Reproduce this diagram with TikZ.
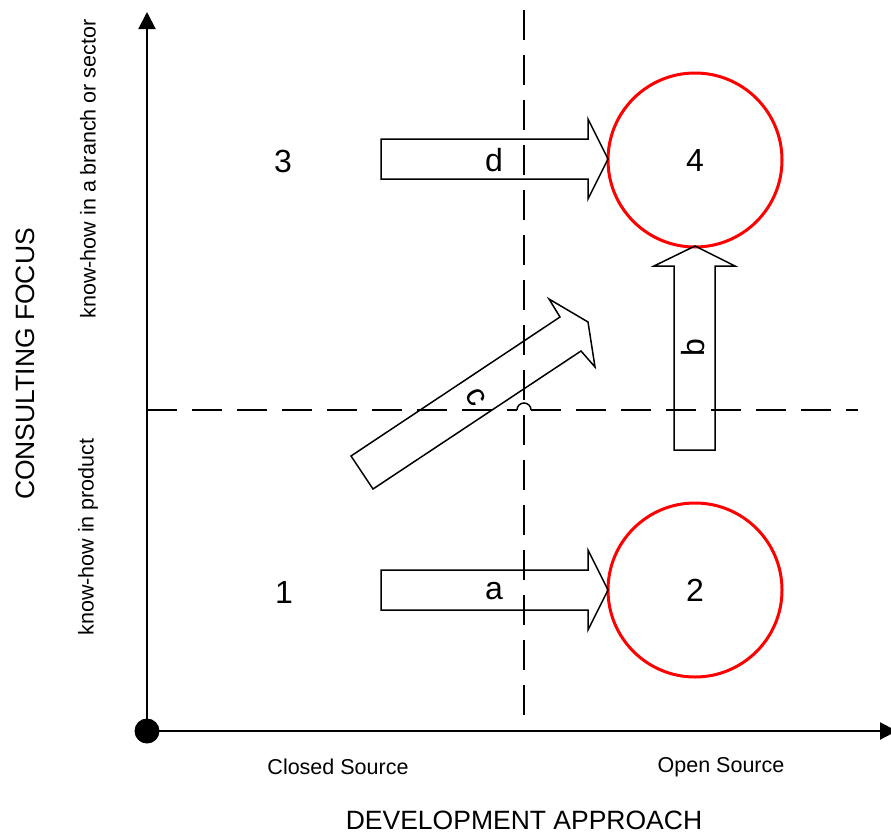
\documentclass[tikz,border=0pt]{standalone}
\usepackage{fontspec}
\setmainfont{Liberation Sans}
\usetikzlibrary{arrows.meta}
\tikzset{
  axis/.style={line width=2pt},
  grid line/.style={line width=1.5pt, dash pattern=on 30pt off 15pt},
  fat arrow/.style={line width=1.5pt, line join=miter},
  ring/.style={circle, draw=red, line width=3pt, minimum size=174pt, inner sep=0pt},
  small/.style={font=\fontsize{21.5}{25}\selectfont},
  big/.style={font=\fontsize{26.5}{30}\selectfont},
  digit/.style={font=\fontsize{32}{36}\selectfont},
  letter/.style={font=\fontsize{32}{36}\selectfont}
}
\begin{document}
\begin{tikzpicture}[x=1pt, y=-1pt]
\useasboundingbox (0,0) rectangle (891,835);
% axes
\coordinate (o) at (147,731);
\coordinate (ytop) at (147,12);
\coordinate (xend) at (897,731);
\draw[axis, -{Triangle[length=17pt, width=17pt]}] (o) -- (ytop);
\draw[axis, -{Triangle[length=17pt, width=17pt]}] (o) -- (xend);
\fill (o) circle (12.5pt);
% quadrant lines
\draw[grid line] (524,10) -- (524,731);
\draw[grid line] (147,410) -- (517,410);
\draw[line width=1.5pt] (517,410) arc (180:360:7);
\draw[grid line] (531,410) -- (858,410);
% fields
\node[digit] (q3) at (283,161) {3};
\node[digit] (q1) at (284,592) {1};
\node[ring, digit] (q4) at (695,160) {4};
\node[ring, digit] (q2) at (695,590) {2};
% moves
\draw[fat arrow] (381,139) -- (588,139) -- (588,119) -- (608,159) -- (588,199) -- (588,179) -- (381,179) -- cycle;
\draw[fat arrow] (381,570) -- (588,570) -- (588,550) -- (608,590) -- (588,630) -- (588,610) -- (381,610) -- cycle;
\draw[fat arrow] (674,450) -- (674,266) -- (654,266) -- (695,246) -- (735,266) -- (715,266) -- (715,450) -- cycle;
\draw[fat arrow] (351,456) -- (560,317) -- (549,299) -- (588,322) -- (595,367) -- (581,351) -- (373,489) -- cycle;
\node[letter] (md) at (494,160) {d};
\node[letter] (ma) at (494,591) {a};
\node[letter, rotate=90] (mb) at (693,348) {b};
\node[letter, rotate=-60] (mc) at (476,397) {c};
% axis labels
\node[small, rotate=90] (top) at (88,169) {know-how in a branch or sector};
\node[small, rotate=90] (bottom) at (88,537) {know-how in product};
\node[big, rotate=90] (yname) at (25,364) {CONSULTING FOCUS};
\node[small] (closed) at (338,767) {Closed Source};
\node[small] (open) at (721,767) {Open Source};
\node[big] (xname) at (524,820) {DEVELOPMENT APPROACH};
\end{tikzpicture}
\end{document}
